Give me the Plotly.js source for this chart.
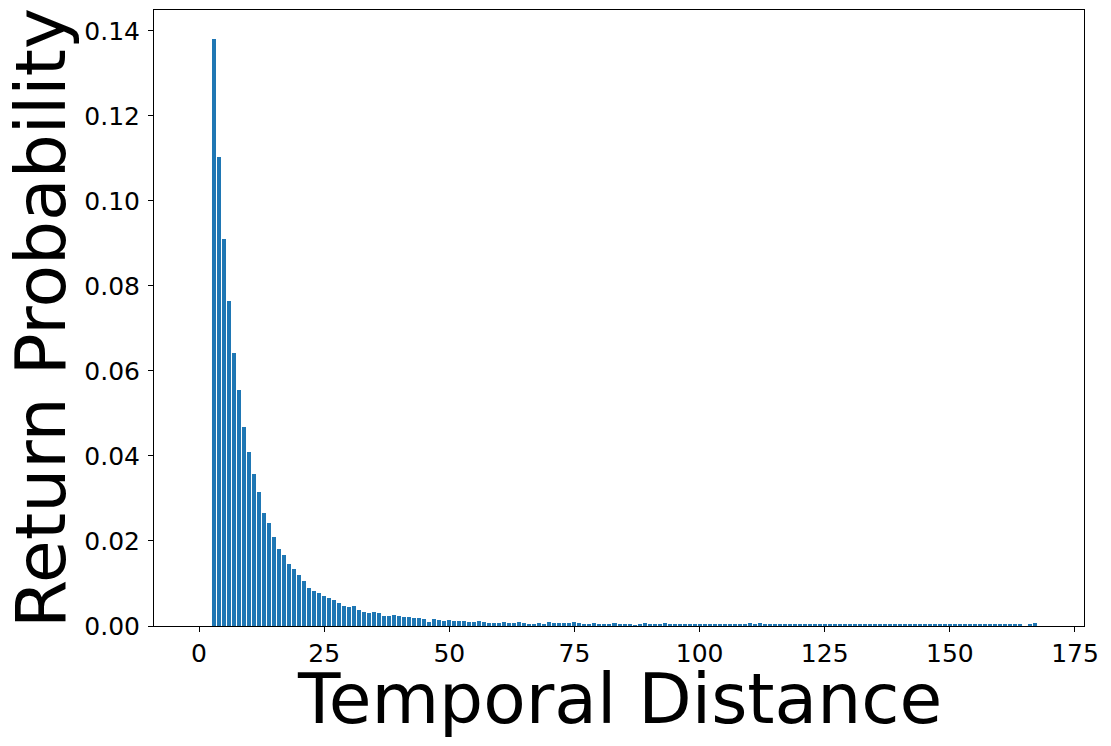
<!DOCTYPE html>
<html>
<head>
<meta charset="utf-8">
<script src="https://cdn.plot.ly/plotly-3.0.1.min.js"></script>
<style>html,body{margin:0;padding:0;background:#fff;}#chart{width:1111px;height:746px;}</style>
</head>
<body>
<div id="chart"></div>
<script>
// Temporal distance (x) from 3 to 167
const distances = [];
for (let d = 3; d <= 167; d++) distances.push(d);

// Return probability, one value per distance 3..167
const probabilities = [
  0.1381, 0.1104, 0.0911, 0.0765, 0.0642, 0.0555, 0.0468, 0.0409, 0.0358, 0.0315, // 3-12
  0.0266, 0.0242, 0.0209, 0.0181, 0.0167, 0.0146, 0.0134, 0.0120, 0.0106, 0.0089, // 13-22
  0.0082, 0.0078, 0.0071, 0.0066, 0.0061, 0.0054, 0.0047, 0.0045, 0.0047, 0.0038, // 23-32
  0.0033, 0.0031, 0.0033, 0.0031, 0.0024, 0.0024, 0.0026, 0.0024, 0.0021, 0.0021, // 33-42
  0.0019, 0.0019, 0.0016, 0.0009, 0.0016, 0.0014, 0.0012, 0.0014, 0.0012, 0.0012, // 43-52
  0.0012, 0.0009, 0.0009, 0.0012, 0.0009, 0.0007, 0.0007, 0.0007, 0.0009, 0.0007, // 53-62
  0.0007, 0.0009, 0.0007, 0.0005, 0.0005, 0.0007, 0.0005, 0.0009, 0.0007, 0.0007, // 63-72
  0.0007, 0.0007, 0.0009, 0.0007, 0.0005, 0.0005, 0.0007, 0.0005, 0.0005, 0.0005, // 73-82
  0.0007, 0.0005, 0.0005, 0.0005, 0.0002, 0.0005, 0.0007, 0.0005, 0.0005, 0.0005, // 83-92
  0.0007, 0.0005, 0.0005, 0.0005, 0.0005, 0.0005, 0.0003, 0.0005, 0.0005, 0.0005, // 93-102
  0.0005, 0.0005, 0.0005, 0.0005, 0.0005, 0.0005, 0.0005, 0.0007, 0.0005, 0.0007, // 103-112
  0.0003, 0.0003, 0.0005, 0.0005, 0.0003, 0.0005, 0.0005, 0.0005, 0.0005, 0.0003, // 113-122
  0.0003, 0.0005, 0.0003, 0.0003, 0.0003, 0.0003, 0.0003, 0.0003, 0.0005, 0.0005, // 123-132
  0.0005, 0.00025, 0.00025, 0.00025, 0.00025, 0.00025, 0.00025, 0.00025, 0.00025, 0.00025, // 133-142
  0.00025, 0.00025, 0.00025, 0.00025, 0.00025, 0.00025, 0.00025, 0.00025, 0.00025, 0.00025, // 143-152
  0.00025, 0.00025, 0.00025, 0.00025, 0.00025, 0.00025, 0.00025, 0.00025, 0.00025, 0.00025, // 153-162
  0.00025, 0.00025, 0, 0.0003, 0.0007 // 163-167
];

const xTickVals = [0, 25, 50, 75, 100, 125, 150, 175];
const yTickVals = [0, 0.02, 0.04, 0.06, 0.08, 0.10, 0.12, 0.14];
const xTitle = 'Temporal Distance';
const yTitle = 'Return Probability';

const trace = {
  type: 'bar',
  x: distances,
  y: probabilities,
  width: 0.8,
  marker: {color: '#1f77b4', line: {width: 0}},
  hoverinfo: 'x+y'
};

const axisCommon = {
  showline: true, linecolor: '#000', linewidth: 1, mirror: true,
  showgrid: false, zeroline: false,
  ticks: 'outside', ticklen: 5, tickwidth: 1, tickcolor: '#000',
  tickfont: {family: 'DejaVu Sans', size: 25, color: '#000'}
};

const layout = {
  width: 1111, height: 746,
  margin: {l: 154, r: 27, t: 10, b: 120},
  paper_bgcolor: '#fff', plot_bgcolor: '#fff',
  font: {family: 'DejaVu Sans', color: '#000'},
  showlegend: false,
  bargap: 0,
  xaxis: Object.assign({}, axisCommon, {
    range: [-9, 176.8],
    tickvals: xTickVals
  }),
  yaxis: Object.assign({}, axisCommon, {
    range: [0, 0.1449],
    tickvals: yTickVals,
    tickformat: '.2f',
    ticklabelstandoff: 3,
    title: {text: yTitle, font: {family: 'DejaVu Sans', size: 69.5, color: '#000'}, standoff: 4}
  }),
  annotations: [{
    text: xTitle,
    xref: 'paper', yref: 'paper', x: 0.5, y: 0,
    xanchor: 'center', yanchor: 'middle', yshift: -72,
    showarrow: false,
    font: {family: 'DejaVu Sans', size: 69.5, color: '#000'}
  }]
};

Plotly.newPlot('chart', [trace], layout, {displayModeBar: false});
</script>
</body>
</html>
